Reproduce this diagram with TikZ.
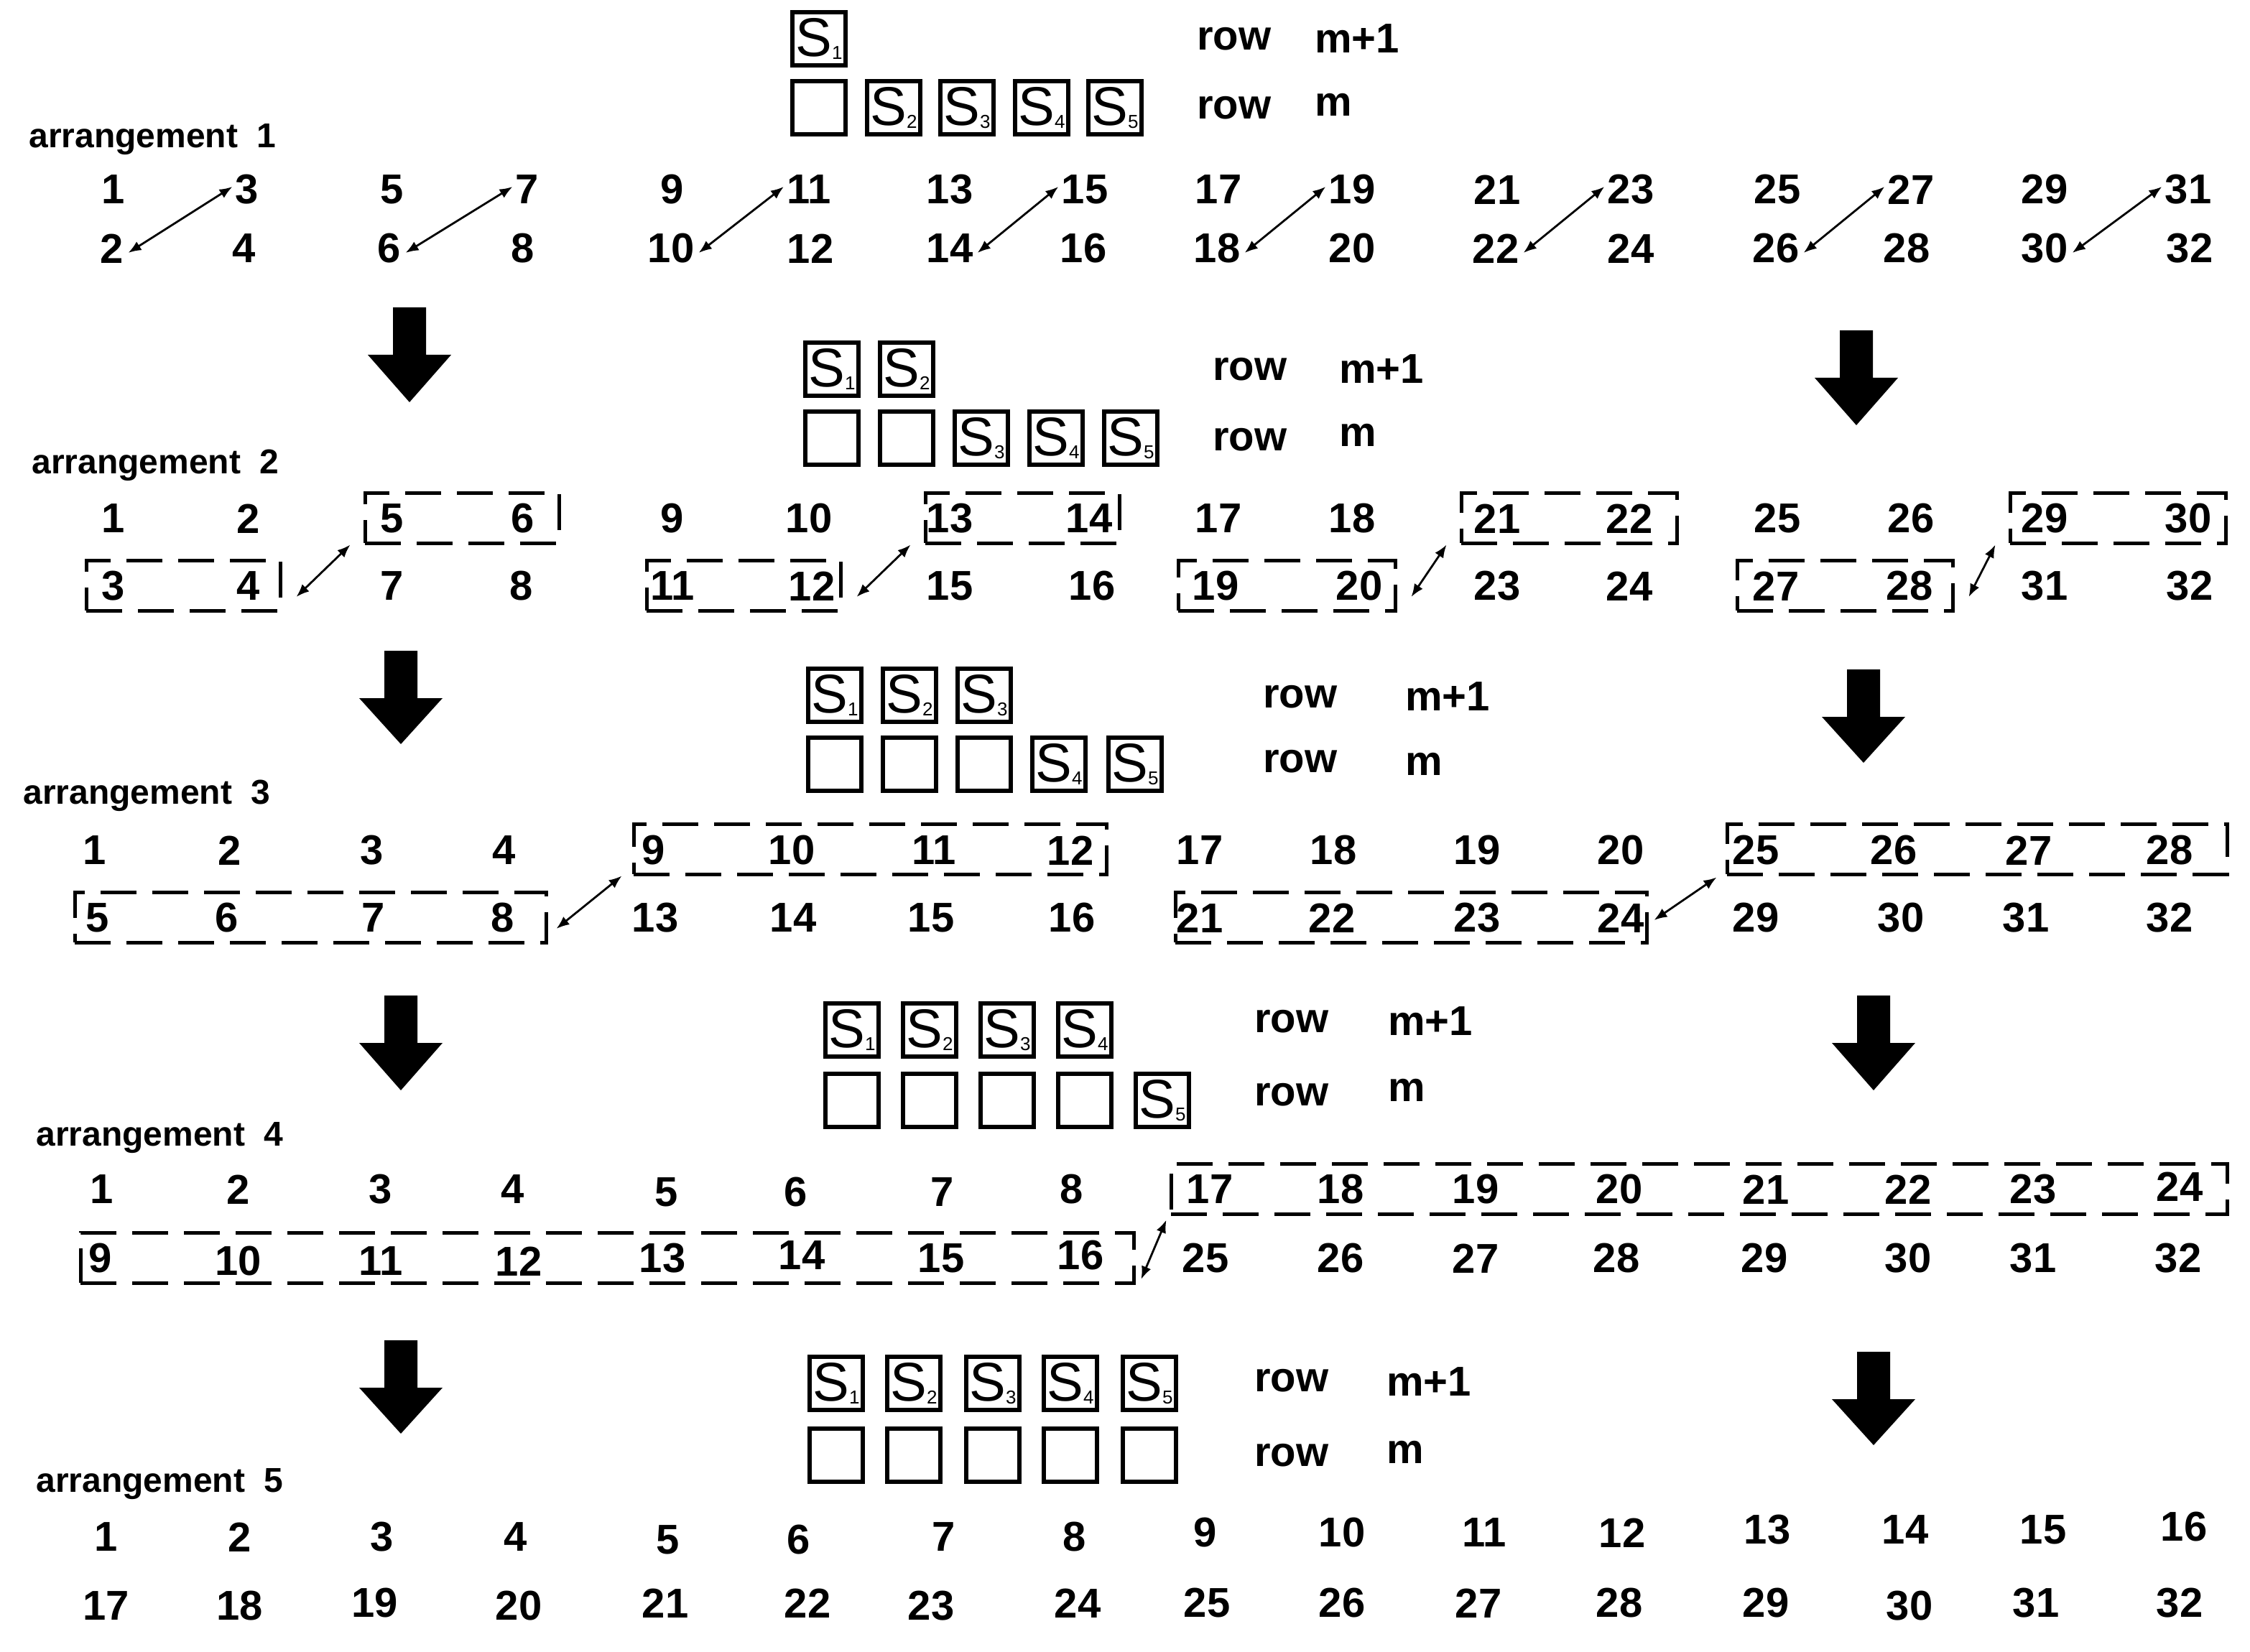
\documentclass[tikz,border=0pt]{standalone}
\usepackage{fontspec}
\setmainfont{Liberation Sans}
\usetikzlibrary{arrows.meta}
\tikzset{
 num/.style={font=\fontsize{29}{29}\selectfont\bfseries, inner sep=0pt},
 lab/.style={font=\fontsize{24}{24}\selectfont\bfseries, inner sep=0pt, anchor=west},
 rowt/.style={font=\fontsize{29}{29}\selectfont\bfseries, inner sep=0pt, anchor=west},
 dbox/.style={draw, line width=2.5pt, dash pattern=on 25pt off 11pt, inner sep=0pt, minimum height=35pt},
 sbox/.style={draw, line width=3pt, minimum size=37pt, inner sep=0pt},
 darr/.style={{Latex[length=9pt,width=7pt]}-{Latex[length=9pt,width=7pt]}, line width=1.4pt},
}
\newcommand\Sn[1]{{\fontsize{38}{38}\selectfont S}\raisebox{-2pt}{\fontsize{13}{13}\selectfont #1}}
\newcommand\bigarr[4]{\fill[black] (#2-11.5,#3) -- (#2+11.5,#3) -- (#2+11.5,#3+33) -- (#2+29,#3+33) -- (#2,#4) -- (#2-29,#3+33) -- (#2-11.5,#3+33) -- cycle;}
\begin{document}
\begin{tikzpicture}[x=1pt,y=-1pt]
\useasboundingbox (0,0) rectangle (1566,1150);
% ---------- arrangement 1
\node[lab] (L1) at (20,97) {arrangement\ \ 1};
\foreach \n/\x/\y in {1/79/132,3/172/132,5/273/132,7/367/132,9/468/132,11/563/132,13/661/132,15/755/132,17/848/132,19/941/132,21/1042/132,23/1135/132,25/1237/132,27/1330/132,29/1423/132,31/1523/132,
2/78/173,4/170/173,6/271/173,8/364/173,10/467/173,12/564/173,14/661/173,16/754/173,18/847/173,20/941/173,22/1041/173,24/1135/173,26/1236/173,28/1327/173,30/1423/173,32/1524/173}
 \node[num] (a1n\n) at (\x,\y) {\n};
\foreach \a/\b in {2/3,6/7,10/11,14/15,18/19,22/23,26/27,30/31}
 \draw[darr] ([xshift=3pt,yshift=-3pt]a1n\a.east) -- ([xshift=-2pt,yshift=2pt]a1n\b.west);
\node[sbox] (s1a) at (570,27) {\Sn{1}};
\node[sbox] (s1b) at (570,75) {};
\foreach \i/\x in {2/622,3/673,4/725,5/776} \node[sbox] (s1m\i) at (\x,75) {\Sn{\i}};
\node[rowt] (r1a) at (833,27) {row};
\node[rowt] (r1b) at (833,75) {row};
\node[rowt] (m1a) at (915,27) {m+1};
\node[rowt] (m1b) at (915,73) {m};
\bigarr{A1}{285}{214}{280}
\bigarr{B1}{1292}{230}{296}
% ---------- arrangement 2
\node[lab] (L2) at (22,324) {arrangement\ \ 2};
\foreach \n/\x/\y in {1/79/361,2/173/361,5/273/361,6/364/361,9/468/361,10/563/361,13/661/361,14/758/361,17/848/361,18/941/361,21/1042/361,22/1134/361,25/1237/361,26/1330/361,29/1423/361,30/1523/361,
3/79/408,4/173/408,7/273/408,8/363/408,11/468/408,12/565/408,15/661/408,16/760/408,19/846/408,20/946/408,23/1042/408,24/1134/408,27/1236/408,28/1329/408,31/1423/408,32/1524/408}
 \node[num] (a2n\n) at (\x,\y) {\n};
\node[dbox, minimum width=135pt] (b2a) at (127.5,407.5) {};
\node[dbox, minimum width=135pt] (b2b) at (321.5,360.5) {};
\node[dbox, minimum width=135pt] (b2c) at (517.5,407.5) {};
\node[dbox, minimum width=135pt] (b2d) at (711.5,360.5) {};
\node[dbox, minimum width=151pt] (b2e) at (895.5,407.5) {};
\node[dbox, minimum width=150pt] (b2f) at (1092,360.5) {};
\node[dbox, minimum width=150pt] (b2g) at (1284,407.5) {};
\node[dbox, minimum width=150pt] (b2h) at (1474,360.5) {};
\foreach \p/\q in {b2a/b2b,b2c/b2d,b2e/b2f,b2g/b2h}
 \draw[darr] ([xshift=10pt,yshift=-8pt]\p.east) -- ([xshift=-9pt,yshift=0pt]\q.south west);
\node[sbox] (s2a) at (579,257) {\Sn{1}};
\node[sbox] (s2b) at (631,257) {\Sn{2}};
\node[sbox] (s2c) at (579,305) {};
\node[sbox] (s2d) at (631,305) {};
\foreach \i/\x in {3/683,4/735,5/787} \node[sbox] (s2m\i) at (\x,305) {\Sn{\i}};
\node[rowt] (r2a) at (844,257) {row};
\node[rowt] (r2b) at (844,306) {row};
\node[rowt] (m2a) at (932,257) {m+1};
\node[rowt] (m2b) at (932,303) {m};
\bigarr{A2}{279}{453}{518}
\bigarr{B2}{1297}{466}{531}
% ---------- arrangement 3
\node[lab] (L3) at (16,554) {arrangement\ \ 3};
\foreach \n/\x/\y in {1/66/592,2/160/592,3/259/592,4/351/592,9/455/592,10/551/592,11/650/592,12/745/592,17/835/592,18/928/592,19/1028/592,20/1128/592,25/1222/592,26/1318/592,27/1412/592,28/1510/592,
5/68/639,6/158/639,7/260/639,8/350/639,13/456/639,14/552/639,15/648/639,16/746/639,21/835/639,22/927/639,23/1028/639,24/1128/639,29/1222/639,30/1323/639,31/1410/639,32/1510/639}
 \node[num] (a3n\n) at (\x,\y) {\n};
\node[dbox, minimum width=328pt] (b3a) at (216,638.5) {};
\node[dbox, minimum width=329pt] (b3b) at (605.5,591) {};
\node[dbox, minimum width=328pt] (b3c) at (982,638.5) {};
\node[dbox, minimum width=348pt] (b3d) at (1376,591) {};
\draw[darr] ([xshift=6pt,yshift=-8pt]b3a.east) -- ([xshift=-7pt,yshift=-0pt]b3b.south west);
\draw[darr] ([xshift=4pt,yshift=-2pt]b3c.east) -- ([xshift=-6pt,yshift=-1pt]b3d.south west);
\node[sbox] (s3a) at (581,484) {\Sn{1}};
\node[sbox] (s3b) at (633,484) {\Sn{2}};
\node[sbox] (s3c) at (685,484) {\Sn{3}};
\node[sbox] (s3d) at (581,532) {};
\node[sbox] (s3e) at (633,532) {};
\node[sbox] (s3f) at (685,532) {};
\foreach \i/\x in {4/737,5/790} \node[sbox] (s3m\i) at (\x,532) {\Sn{\i}};
\node[rowt] (r3a) at (879,485) {row};
\node[rowt] (r3b) at (879,530) {row};
\node[rowt] (m3a) at (978,485) {m+1};
\node[rowt] (m3b) at (978,532) {m};
\bigarr{A3}{279}{693}{759}
\bigarr{B3}{1304}{693}{759}
% ---------- arrangement 4
\node[lab] (L4) at (25,792) {arrangement\ \ 4};
\foreach \n/\x/\y in {1/71/828,2/166/828,3/265/828,4/357/828,5/464/830,6/554/830,7/656/830,8/746/828,17/842/828,18/933/828,19/1027/828,20/1127/828,21/1229/828,22/1328/828,23/1415/828,24/1517/826,
9/70/876,10/166/878,11/265/878,12/361/878,13/461/876,14/558/874,15/655/876,16/752/874,25/839/876,26/933/876,27/1027/876,28/1125/876,29/1228/876,30/1328/876,31/1415/876,32/1516/876}
 \node[num] (a4n\n) at (\x,\y) {\n};
\node[dbox, minimum width=733pt] (b4a) at (422.5,875.5) {};
\node[dbox, minimum width=735pt] (b4b) at (1182.5,827.5) {};
\draw[darr] ([xshift=4pt,yshift=-15pt]b4a.east) -- ([xshift=-2pt,yshift=-3pt]b4b.south west);
\foreach \i/\x in {1/593,2/647,3/701,4/755} \node[sbox] (s4t\i) at (\x,717) {\Sn{\i}};
\foreach \i/\x in {1/593,2/647,3/701,4/755} \node[sbox] (s4b\i) at (\x,766) {};
\node[sbox] (s4m5) at (809,766) {\Sn{5}};
\node[rowt] (r4a) at (873,711) {row};
\node[rowt] (r4b) at (873,762) {row};
\node[rowt] (m4a) at (966,711) {m+1};
\node[rowt] (m4b) at (966,759) {m};
\bigarr{A4}{279}{933}{998}
\bigarr{B4}{1304}{941}{1006}
% ---------- arrangement 5
\node[lab] (L5) at (25,1033) {arrangement\ \ 5};
\foreach \n/\x/\y in {1/74/1070,2/167/1070,3/266/1070,4/359/1070,5/465/1072,6/556/1072,7/657/1070,8/748/1070,9/839/1067,10/934/1067,11/1033/1067,12/1129/1067,13/1230/1065,14/1326/1065,15/1422/1065,16/1520/1063}
 \node[num] (a5n\n) at (\x,\y) {\n};
\foreach \n/\x/\y in {17/74/1118,18/167/1118,19/261/1116,20/361/1118,21/463/1116,22/562/1116,23/648/1118,24/750/1116,25/840/1116,26/934/1116,27/1029/1116,28/1127/1116,29/1229/1116,30/1329/1118,31/1417/1116,32/1517/1116}
 \node[num] (a5n\n) at (\x,\y) {\n};
\foreach \i/\x in {1/582,2/636,3/691,4/745,5/800} \node[sbox] (s5t\i) at (\x,963) {\Sn{\i}};
\foreach \i/\x in {1/582,2/636,3/691,4/745,5/800} \node[sbox] (s5b\i) at (\x,1013) {};
\node[rowt] (r5a) at (873,961) {row};
\node[rowt] (r5b) at (873,1013) {row};
\node[rowt] (m5a) at (965,962) {m+1};
\node[rowt] (m5b) at (965,1011) {m};
\end{tikzpicture}
\end{document}
